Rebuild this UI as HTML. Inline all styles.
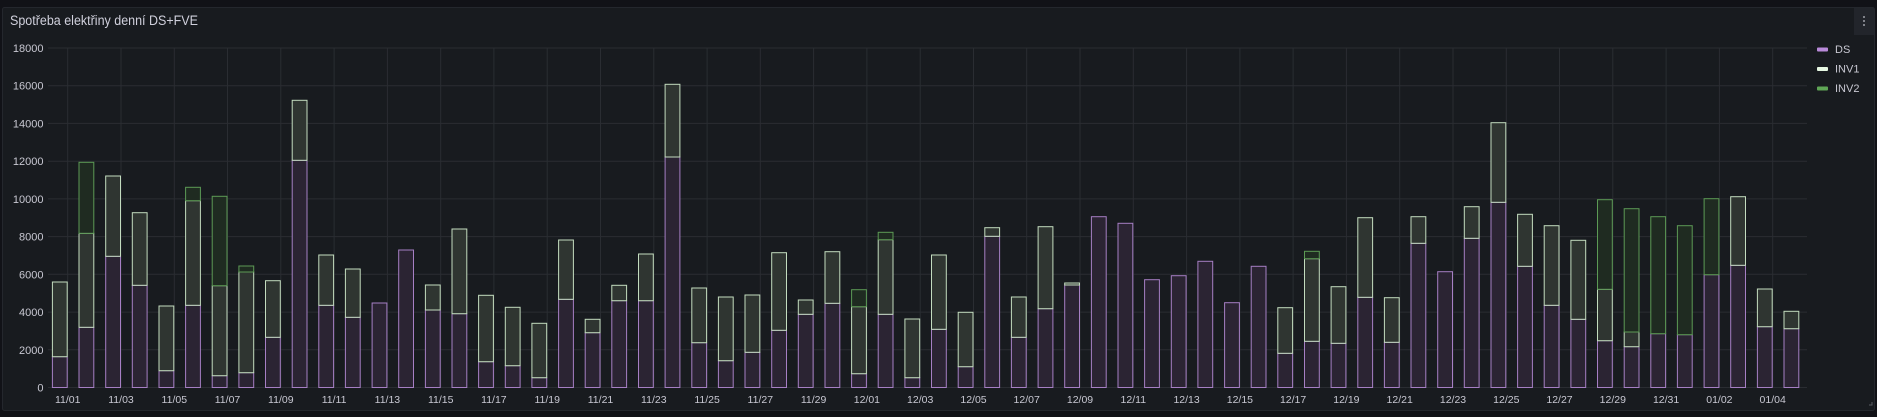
<!DOCTYPE html>
<html><head><meta charset="utf-8"><style>
html,body{margin:0;padding:0;background:#111217;width:1877px;height:417px;overflow:hidden}
svg{display:block;font-family:"Liberation Sans",sans-serif}
</style></head><body>
<svg width="1877" height="417" viewBox="0 0 1877 417" xmlns="http://www.w3.org/2000/svg">
<rect x="0" y="0" width="1877" height="417" fill="#111217"/>
<rect x="2.5" y="7.5" width="1872" height="403" rx="2" fill="#181b1f" stroke="#24272d"/>
<text x="10" y="25" font-size="13.5" fill="#d0d0dc" textLength="188" lengthAdjust="spacingAndGlyphs">Spotřeba elektřiny denní DS+FVE</text>
<rect x="1854" y="8" width="20" height="27" fill="#22252b"/>
<circle cx="1864" cy="17" r="1" fill="#9fa0a8"/><circle cx="1864" cy="21" r="1" fill="#9fa0a8"/><circle cx="1864" cy="25" r="1" fill="#9fa0a8"/>
<g stroke="#2a2d32" stroke-width="1">
<line x1="48" x2="1807" y1="387.5" y2="387.5"/>
<line x1="48" x2="1807" y1="349.8" y2="349.8"/>
<line x1="48" x2="1807" y1="312.1" y2="312.1"/>
<line x1="48" x2="1807" y1="274.3" y2="274.3"/>
<line x1="48" x2="1807" y1="236.6" y2="236.6"/>
<line x1="48" x2="1807" y1="198.9" y2="198.9"/>
<line x1="48" x2="1807" y1="161.2" y2="161.2"/>
<line x1="48" x2="1807" y1="123.4" y2="123.4"/>
<line x1="48" x2="1807" y1="85.7" y2="85.7"/>
<line x1="48" x2="1807" y1="48" y2="48"/>
<line x1="67.7" x2="67.7" y1="48" y2="387.5"/>
<line x1="121" x2="121" y1="48" y2="387.5"/>
<line x1="174.3" x2="174.3" y1="48" y2="387.5"/>
<line x1="227.5" x2="227.5" y1="48" y2="387.5"/>
<line x1="280.8" x2="280.8" y1="48" y2="387.5"/>
<line x1="334.1" x2="334.1" y1="48" y2="387.5"/>
<line x1="387.4" x2="387.4" y1="48" y2="387.5"/>
<line x1="440.7" x2="440.7" y1="48" y2="387.5"/>
<line x1="493.9" x2="493.9" y1="48" y2="387.5"/>
<line x1="547.2" x2="547.2" y1="48" y2="387.5"/>
<line x1="600.5" x2="600.5" y1="48" y2="387.5"/>
<line x1="653.8" x2="653.8" y1="48" y2="387.5"/>
<line x1="707.1" x2="707.1" y1="48" y2="387.5"/>
<line x1="760.3" x2="760.3" y1="48" y2="387.5"/>
<line x1="813.6" x2="813.6" y1="48" y2="387.5"/>
<line x1="866.9" x2="866.9" y1="48" y2="387.5"/>
<line x1="920.2" x2="920.2" y1="48" y2="387.5"/>
<line x1="973.5" x2="973.5" y1="48" y2="387.5"/>
<line x1="1026.7" x2="1026.7" y1="48" y2="387.5"/>
<line x1="1080" x2="1080" y1="48" y2="387.5"/>
<line x1="1133.3" x2="1133.3" y1="48" y2="387.5"/>
<line x1="1186.6" x2="1186.6" y1="48" y2="387.5"/>
<line x1="1239.9" x2="1239.9" y1="48" y2="387.5"/>
<line x1="1293.1" x2="1293.1" y1="48" y2="387.5"/>
<line x1="1346.4" x2="1346.4" y1="48" y2="387.5"/>
<line x1="1399.7" x2="1399.7" y1="48" y2="387.5"/>
<line x1="1453" x2="1453" y1="48" y2="387.5"/>
<line x1="1506.3" x2="1506.3" y1="48" y2="387.5"/>
<line x1="1559.5" x2="1559.5" y1="48" y2="387.5"/>
<line x1="1612.8" x2="1612.8" y1="48" y2="387.5"/>
<line x1="1666.1" x2="1666.1" y1="48" y2="387.5"/>
<line x1="1719.4" x2="1719.4" y1="48" y2="387.5"/>
<line x1="1772.7" x2="1772.7" y1="48" y2="387.5"/>
</g>
<g font-size="11" fill="#c8c8d2" text-anchor="end">
<text x="43.5" y="391.5">0</text>
<text x="43.5" y="353.8">2000</text>
<text x="43.5" y="316.1">4000</text>
<text x="43.5" y="278.3">6000</text>
<text x="43.5" y="240.6">8000</text>
<text x="43.5" y="202.9">10000</text>
<text x="43.5" y="165.2">12000</text>
<text x="43.5" y="127.4">14000</text>
<text x="43.5" y="89.7">16000</text>
<text x="43.5" y="52">18000</text>
</g>
<g font-size="10.5" fill="#c8c8d2" text-anchor="middle">
<text x="67.7" y="403">11/01</text>
<text x="121" y="403">11/03</text>
<text x="174.3" y="403">11/05</text>
<text x="227.5" y="403">11/07</text>
<text x="280.8" y="403">11/09</text>
<text x="334.1" y="403">11/11</text>
<text x="387.4" y="403">11/13</text>
<text x="440.7" y="403">11/15</text>
<text x="493.9" y="403">11/17</text>
<text x="547.2" y="403">11/19</text>
<text x="600.5" y="403">11/21</text>
<text x="653.8" y="403">11/23</text>
<text x="707.1" y="403">11/25</text>
<text x="760.3" y="403">11/27</text>
<text x="813.6" y="403">11/29</text>
<text x="866.9" y="403">12/01</text>
<text x="920.2" y="403">12/03</text>
<text x="973.5" y="403">12/05</text>
<text x="1026.7" y="403">12/07</text>
<text x="1080" y="403">12/09</text>
<text x="1133.3" y="403">12/11</text>
<text x="1186.6" y="403">12/13</text>
<text x="1239.9" y="403">12/15</text>
<text x="1293.1" y="403">12/17</text>
<text x="1346.4" y="403">12/19</text>
<text x="1399.7" y="403">12/21</text>
<text x="1453" y="403">12/23</text>
<text x="1506.3" y="403">12/25</text>
<text x="1559.5" y="403">12/27</text>
<text x="1612.8" y="403">12/29</text>
<text x="1666.1" y="403">12/31</text>
<text x="1719.4" y="403">01/02</text>
<text x="1772.7" y="403">01/04</text>
</g>
<g fill="#2b2433" stroke="#a67fc4" stroke-width="1">
<rect x="52.4" y="356.7" width="14.8" height="30.8"/>
<rect x="79" y="327.3" width="14.8" height="60.2"/>
<rect x="105.7" y="256.3" width="14.8" height="131.2"/>
<rect x="132.3" y="285.3" width="14.8" height="102.2"/>
<rect x="159" y="370.7" width="14.8" height="16.8"/>
<rect x="185.6" y="305.3" width="14.8" height="82.2"/>
<rect x="212.2" y="375.7" width="14.8" height="11.8"/>
<rect x="238.9" y="372.7" width="14.8" height="14.8"/>
<rect x="265.5" y="337.3" width="14.8" height="50.2"/>
<rect x="292.2" y="160.3" width="14.8" height="227.2"/>
<rect x="318.8" y="305.3" width="14.8" height="82.2"/>
<rect x="345.4" y="317.3" width="14.8" height="70.2"/>
<rect x="372.1" y="303" width="14.8" height="84.5"/>
<rect x="398.7" y="250" width="14.8" height="137.5"/>
<rect x="425.4" y="310" width="14.8" height="77.5"/>
<rect x="452" y="313.7" width="14.8" height="73.8"/>
<rect x="478.6" y="361.7" width="14.8" height="25.8"/>
<rect x="505.3" y="365.7" width="14.8" height="21.8"/>
<rect x="531.9" y="377.7" width="14.8" height="9.8"/>
<rect x="558.6" y="299.3" width="14.8" height="88.2"/>
<rect x="585.2" y="332.7" width="14.8" height="54.8"/>
<rect x="611.8" y="300.7" width="14.8" height="86.8"/>
<rect x="638.5" y="300.7" width="14.8" height="86.8"/>
<rect x="665.1" y="157" width="14.8" height="230.5"/>
<rect x="691.8" y="342.7" width="14.8" height="44.8"/>
<rect x="718.4" y="360.7" width="14.8" height="26.8"/>
<rect x="745" y="352.3" width="14.8" height="35.2"/>
<rect x="771.7" y="330.3" width="14.8" height="57.2"/>
<rect x="798.3" y="314.3" width="14.8" height="73.2"/>
<rect x="825" y="303.3" width="14.8" height="84.2"/>
<rect x="851.6" y="373.7" width="14.8" height="13.8"/>
<rect x="878.2" y="314.3" width="14.8" height="73.2"/>
<rect x="904.9" y="377.7" width="14.8" height="9.8"/>
<rect x="931.5" y="329.3" width="14.8" height="58.2"/>
<rect x="958.2" y="366.7" width="14.8" height="20.8"/>
<rect x="984.8" y="236.3" width="14.8" height="151.2"/>
<rect x="1011.4" y="337.3" width="14.8" height="50.2"/>
<rect x="1038.1" y="308.7" width="14.8" height="78.8"/>
<rect x="1064.7" y="285" width="14.8" height="102.5"/>
<rect x="1091.4" y="216.7" width="14.8" height="170.8"/>
<rect x="1118" y="223.3" width="14.8" height="164.2"/>
<rect x="1144.6" y="279.7" width="14.8" height="107.8"/>
<rect x="1171.3" y="275.7" width="14.8" height="111.8"/>
<rect x="1197.9" y="261.3" width="14.8" height="126.2"/>
<rect x="1224.6" y="302.7" width="14.8" height="84.8"/>
<rect x="1251.2" y="266.3" width="14.8" height="121.2"/>
<rect x="1277.8" y="353.3" width="14.8" height="34.2"/>
<rect x="1304.5" y="341.3" width="14.8" height="46.2"/>
<rect x="1331.1" y="343.3" width="14.8" height="44.2"/>
<rect x="1357.8" y="297.3" width="14.8" height="90.2"/>
<rect x="1384.4" y="342.3" width="14.8" height="45.2"/>
<rect x="1411" y="243.3" width="14.8" height="144.2"/>
<rect x="1437.7" y="271.7" width="14.8" height="115.8"/>
<rect x="1464.3" y="238.3" width="14.8" height="149.2"/>
<rect x="1491" y="202.3" width="14.8" height="185.2"/>
<rect x="1517.6" y="266.3" width="14.8" height="121.2"/>
<rect x="1544.2" y="305.3" width="14.8" height="82.2"/>
<rect x="1570.9" y="319.3" width="14.8" height="68.2"/>
<rect x="1597.5" y="340.7" width="14.8" height="46.8"/>
<rect x="1624.2" y="346.7" width="14.8" height="40.8"/>
<rect x="1650.8" y="333.7" width="14.8" height="53.8"/>
<rect x="1677.4" y="334.7" width="14.8" height="52.8"/>
<rect x="1704.1" y="274.7" width="14.8" height="112.8"/>
<rect x="1730.7" y="265.3" width="14.8" height="122.2"/>
<rect x="1757.4" y="326.7" width="14.8" height="60.8"/>
<rect x="1784" y="328.7" width="14.8" height="58.8"/>
</g>
<g fill="#2f3531" stroke="#c3dcbf" stroke-width="1">
<rect x="52.4" y="282" width="14.8" height="74.7"/>
<rect x="79" y="233.3" width="14.8" height="94"/>
<rect x="105.7" y="176" width="14.8" height="80.3"/>
<rect x="132.3" y="212.7" width="14.8" height="72.6"/>
<rect x="159" y="306" width="14.8" height="64.7"/>
<rect x="185.6" y="200.7" width="14.8" height="104.6"/>
<rect x="212.2" y="285.7" width="14.8" height="90"/>
<rect x="238.9" y="272" width="14.8" height="100.7"/>
<rect x="265.5" y="280.7" width="14.8" height="56.6"/>
<rect x="292.2" y="100.3" width="14.8" height="60"/>
<rect x="318.8" y="255" width="14.8" height="50.3"/>
<rect x="345.4" y="269" width="14.8" height="48.3"/>
<rect x="425.4" y="285" width="14.8" height="25"/>
<rect x="452" y="229" width="14.8" height="84.7"/>
<rect x="478.6" y="295.3" width="14.8" height="66.4"/>
<rect x="505.3" y="307.3" width="14.8" height="58.4"/>
<rect x="531.9" y="323.3" width="14.8" height="54.4"/>
<rect x="558.6" y="240" width="14.8" height="59.3"/>
<rect x="585.2" y="319.3" width="14.8" height="13.4"/>
<rect x="611.8" y="285.3" width="14.8" height="15.4"/>
<rect x="638.5" y="254" width="14.8" height="46.7"/>
<rect x="665.1" y="84.3" width="14.8" height="72.7"/>
<rect x="691.8" y="288" width="14.8" height="54.7"/>
<rect x="718.4" y="297" width="14.8" height="63.7"/>
<rect x="745" y="295" width="14.8" height="57.3"/>
<rect x="771.7" y="252.7" width="14.8" height="77.6"/>
<rect x="798.3" y="300" width="14.8" height="14.3"/>
<rect x="825" y="251.7" width="14.8" height="51.6"/>
<rect x="851.6" y="306.7" width="14.8" height="67"/>
<rect x="878.2" y="239.7" width="14.8" height="74.6"/>
<rect x="904.9" y="319" width="14.8" height="58.7"/>
<rect x="931.5" y="255" width="14.8" height="74.3"/>
<rect x="958.2" y="312.3" width="14.8" height="54.4"/>
<rect x="984.8" y="227.7" width="14.8" height="8.6"/>
<rect x="1011.4" y="297" width="14.8" height="40.3"/>
<rect x="1038.1" y="226.7" width="14.8" height="82"/>
<rect x="1064.7" y="283" width="14.8" height="2"/>
<rect x="1277.8" y="307.7" width="14.8" height="45.6"/>
<rect x="1304.5" y="258.7" width="14.8" height="82.6"/>
<rect x="1331.1" y="286.7" width="14.8" height="56.6"/>
<rect x="1357.8" y="217.7" width="14.8" height="79.6"/>
<rect x="1384.4" y="297.7" width="14.8" height="44.6"/>
<rect x="1411" y="216.7" width="14.8" height="26.6"/>
<rect x="1464.3" y="206.7" width="14.8" height="31.6"/>
<rect x="1491" y="122.7" width="14.8" height="79.6"/>
<rect x="1517.6" y="214.3" width="14.8" height="52"/>
<rect x="1544.2" y="225.7" width="14.8" height="79.6"/>
<rect x="1570.9" y="240.3" width="14.8" height="79"/>
<rect x="1597.5" y="289.3" width="14.8" height="51.4"/>
<rect x="1624.2" y="332" width="14.8" height="14.7"/>
<rect x="1730.7" y="196.7" width="14.8" height="68.6"/>
<rect x="1757.4" y="289" width="14.8" height="37.7"/>
<rect x="1784" y="311.3" width="14.8" height="17.4"/>
</g>
<g fill="#1f2b21" stroke="#5c9a55" stroke-width="1">
<rect x="79" y="162.3" width="14.8" height="71"/>
<rect x="185.6" y="187.3" width="14.8" height="13.4"/>
<rect x="212.2" y="196.3" width="14.8" height="89.4"/>
<rect x="238.9" y="266" width="14.8" height="6"/>
<rect x="851.6" y="289.7" width="14.8" height="17"/>
<rect x="878.2" y="232.3" width="14.8" height="7.4"/>
<rect x="1304.5" y="251.3" width="14.8" height="7.4"/>
<rect x="1597.5" y="199.7" width="14.8" height="89.6"/>
<rect x="1624.2" y="208.7" width="14.8" height="123.3"/>
<rect x="1650.8" y="216.7" width="14.8" height="117"/>
<rect x="1677.4" y="225.7" width="14.8" height="109"/>
<rect x="1704.1" y="198.7" width="14.8" height="76"/>
</g>
<rect x="1817" y="47.5" width="11" height="4" rx="1" fill="#b98ad9"/>
<text x="1835" y="53" font-size="11" fill="#c8c8d2">DS</text>
<rect x="1817" y="67" width="11" height="4" rx="1" fill="#e6f7e2"/>
<text x="1835" y="72.5" font-size="11" fill="#c8c8d2">INV1</text>
<rect x="1817" y="86.5" width="11" height="4" rx="1" fill="#5fa656"/>
<text x="1835" y="92" font-size="11" fill="#c8c8d2">INV2</text>
<path d="M1869 405 L1872 405 L1872 402" stroke="#5a5d63" fill="none" stroke-width="1"/>
</svg>
</body></html>
